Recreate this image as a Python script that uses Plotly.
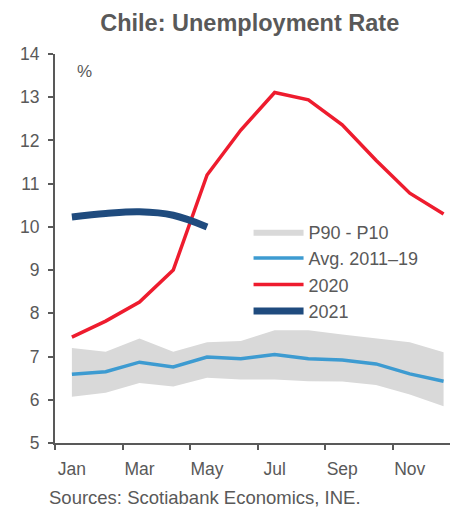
import plotly.graph_objects as go

months = ["Jan", "Feb", "Mar", "Apr", "May", "Jun", "Jul", "Aug", "Sep", "Oct", "Nov", "Dec"]
tick_labels = ["Jan", "Mar", "May", "Jul", "Sep", "Nov"]

p90 = [7.20, 7.11, 7.42, 7.11, 7.33, 7.36, 7.61, 7.61, 7.51, 7.42, 7.33, 7.10]
p10 = [6.07, 6.16, 6.39, 6.31, 6.51, 6.47, 6.47, 6.43, 6.42, 6.34, 6.12, 5.85]
avg_2011_19 = [6.59, 6.65, 6.87, 6.76, 6.99, 6.95, 7.05, 6.95, 6.92, 6.83, 6.60, 6.43]
rate_2020 = [7.45, 7.82, 8.26, 9.00, 11.20, 12.24, 13.11, 12.94, 12.36, 11.54, 10.78, 10.30]
rate_2021 = [10.23, 10.31, 10.35, 10.27, 10.00]

x_all = list(range(len(months)))
x_2021 = list(range(len(rate_2021)))

GRAY_TXT = "#595959"
FONT = "Liberation Sans, Arial, sans-serif"

fig = go.Figure()

# P10-P90 band
fig.add_trace(go.Scatter(x=x_all, y=p10, mode="lines", line=dict(width=0),
                         showlegend=False, hoverinfo="skip"))
fig.add_trace(go.Scatter(x=x_all, y=p90, mode="lines", line=dict(width=0),
                         fill="tonexty", fillcolor="#D9D9D9", name="P90 - P10"))

fig.add_trace(go.Scatter(x=x_all, y=avg_2011_19, mode="lines", name="Avg. 2011–19",
                         line=dict(color="#3D9BD1", width=3.5)))
fig.add_trace(go.Scatter(x=x_all, y=rate_2020, mode="lines", name="2020",
                         line=dict(color="#EE1C2E", width=3.5)))
fig.add_trace(go.Scatter(x=x_2021, y=rate_2021, mode="lines", name="2021",
                         line=dict(color="#1F4B7E", width=7, shape="spline")))

fig.update_layout(
    width=450, height=508,
    margin=dict(l=55, r=0, t=54, b=65),
    paper_bgcolor="white", plot_bgcolor="white",
    font=dict(family=FONT, size=17, color=GRAY_TXT),
    title=dict(text="<b>Chile: Unemployment Rate</b>", x=0.555, xanchor="center",
               y=0.955, yanchor="middle",
               font=dict(family=FONT, size=23.5, color=GRAY_TXT)),
    showlegend=True,
    legend=dict(x=0.49, y=0.59, xanchor="left", yanchor="top",
                traceorder="normal",
                bgcolor="rgba(0,0,0,0)", font=dict(size=18, color=GRAY_TXT),
                tracegroupgap=0, itemwidth=50),
    xaxis=dict(range=[-0.5, 11.19], showgrid=False, zeroline=False,
               showline=True, linecolor=GRAY_TXT, linewidth=2,
               tickmode="array", tickvals=[0, 2, 4, 6, 8, 10], ticktext=tick_labels,
               ticks="", ticklen=0, ticklabelstandoff=9,
               minor=dict(tickmode="array", tickvals=[-0.5, 1.5, 3.5, 5.5, 7.5, 9.5],
                          ticks="outside", ticklen=5, tickcolor=GRAY_TXT, tickwidth=1.5),
               tickfont=dict(size=17.5, color=GRAY_TXT)),
    yaxis=dict(range=[5, 14], showgrid=False, zeroline=False,
               showline=True, linecolor=GRAY_TXT, linewidth=2,
               tickmode="array", tickvals=list(range(5, 15)),
               ticks="outside", ticklen=5, tickcolor=GRAY_TXT, tickwidth=1.5,
               ticklabelstandoff=5,
               tickfont=dict(size=17.5, color=GRAY_TXT)),
    annotations=[
        dict(text="%", xref="paper", yref="paper", x=0.075, y=0.954,
             showarrow=False, xanchor="center", yanchor="middle",
             font=dict(size=17, color=GRAY_TXT)),
        dict(text="Sources: Scotiabank Economics, INE.", xref="paper", yref="paper",
             x=-0.02, y=-0.14, xanchor="left", yanchor="middle", showarrow=False,
             font=dict(size=18.5, color=GRAY_TXT)),
    ],
)

fig.write_html("out.html")
